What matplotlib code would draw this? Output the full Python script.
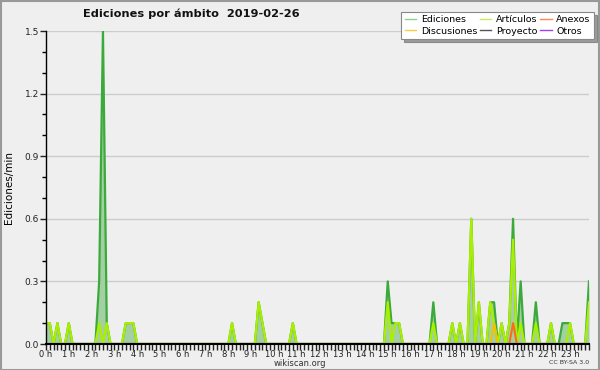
import numpy as np
import matplotlib
matplotlib.use("Agg")
import matplotlib.pyplot as plt
from matplotlib.ticker import MultipleLocator, FormatStrFormatter, FixedLocator
from matplotlib.patches import Rectangle

# 10-minute bins, values in edits/min (one row = one hour, six bins)
ediciones = [
    0.1, 0.1, 0.0, 0.1, 0.0, 0.0,   # 0h
    0.1, 0.0, 0.0, 0.0, 0.0, 0.0,   # 1h
    0.0, 0.0, 0.3, 1.5, 0.1, 0.0,   # 2h
    0.0, 0.0, 0.0, 0.1, 0.1, 0.1,   # 3h
    0.0, 0.0, 0.0, 0.0, 0.0, 0.0,   # 4h
    0.0, 0.0, 0.0, 0.0, 0.0, 0.0,   # 5h
    0.0, 0.0, 0.0, 0.0, 0.0, 0.0,   # 6h
    0.0, 0.0, 0.0, 0.0, 0.0, 0.0,   # 7h
    0.0, 0.1, 0.0, 0.0, 0.0, 0.0,   # 8h
    0.0, 0.0, 0.2, 0.1, 0.0, 0.0,   # 9h
    0.0, 0.0, 0.0, 0.0, 0.0, 0.1,   # 10h
    0.0, 0.0, 0.0, 0.0, 0.0, 0.0,   # 11h
    0.0, 0.0, 0.0, 0.0, 0.0, 0.0,   # 12h
    0.0, 0.0, 0.0, 0.0, 0.0, 0.0,   # 13h
    0.0, 0.0, 0.0, 0.0, 0.0, 0.0,   # 14h
    0.3, 0.1, 0.1, 0.1, 0.0, 0.0,   # 15h
    0.0, 0.0, 0.0, 0.0, 0.0, 0.0,   # 16h
    0.2, 0.0, 0.0, 0.0, 0.0, 0.1,   # 17h
    0.0, 0.1, 0.0, 0.0, 0.6, 0.0,   # 18h
    0.2, 0.0, 0.0, 0.2, 0.2, 0.0,   # 19h
    0.1, 0.0, 0.1, 0.6, 0.0, 0.3,   # 20h
    0.0, 0.0, 0.0, 0.2, 0.0, 0.0,   # 21h
    0.0, 0.1, 0.0, 0.0, 0.1, 0.1,   # 22h
    0.1, 0.0, 0.0, 0.0, 0.0, 0.3,   # 23h
]
articulos = [
    0.1, 0.1, 0.0, 0.1, 0.0, 0.0,
    0.1, 0.0, 0.0, 0.0, 0.0, 0.0,
    0.0, 0.0, 0.1, 0.0, 0.1, 0.0,
    0.0, 0.0, 0.0, 0.1, 0.1, 0.1,
    0.0, 0.0, 0.0, 0.0, 0.0, 0.0,
    0.0, 0.0, 0.0, 0.0, 0.0, 0.0,
    0.0, 0.0, 0.0, 0.0, 0.0, 0.0,
    0.0, 0.0, 0.0, 0.0, 0.0, 0.0,
    0.0, 0.1, 0.0, 0.0, 0.0, 0.0,
    0.0, 0.0, 0.2, 0.1, 0.0, 0.0,
    0.0, 0.0, 0.0, 0.0, 0.0, 0.1,
    0.0, 0.0, 0.0, 0.0, 0.0, 0.0,
    0.0, 0.0, 0.0, 0.0, 0.0, 0.0,
    0.0, 0.0, 0.0, 0.0, 0.0, 0.0,
    0.0, 0.0, 0.0, 0.0, 0.0, 0.0,
    0.2, 0.0, 0.1, 0.1, 0.0, 0.0,
    0.0, 0.0, 0.0, 0.0, 0.0, 0.0,
    0.1, 0.0, 0.0, 0.0, 0.0, 0.1,
    0.0, 0.1, 0.0, 0.0, 0.6, 0.0,
    0.2, 0.0, 0.0, 0.2, 0.1, 0.0,
    0.1, 0.0, 0.1, 0.5, 0.0, 0.1,
    0.0, 0.0, 0.0, 0.1, 0.0, 0.0,
    0.0, 0.1, 0.0, 0.0, 0.0, 0.0,
    0.1, 0.0, 0.0, 0.0, 0.0, 0.2,
]
anexos = [0.0] * 144
anexos[123] = 0.1
discusiones = [0.0] * 144
discusiones[118] = 0.1
proyecto = [0.0] * 144
otros = [0.0] * 144

hour_labels = [f"{h} h" for h in range(24)]
title = "Ediciones por ámbito  2019-02-26"

x = np.arange(144) / 6.0

fig = plt.figure(figsize=(6.0, 3.7), dpi=100, facecolor="#efefef")
ax = fig.add_axes([46 / 600, 1 - 344 / 370, 543 / 600, 313 / 370])
ax.set_facecolor("#efefef")

ax.fill_between(x, ediciones, 0, color="#a4cfa4", lw=0, zorder=2)
ax.plot(x, otros, color="#9944ee", lw=1.5, zorder=3, label="Otros")
ax.plot(x, proyecto, color="#555555", lw=1.5, zorder=3, label="Proyecto")
ax.plot(x, ediciones, color="#3aaa3a", lw=1.6, zorder=4, label="Ediciones")
ax.plot(x, articulos, color="#aaee00", lw=1.6, zorder=5, label="Artículos")
ax.plot(x, discusiones, color="#f2c200", lw=1.5, zorder=6, label="Discusiones")
ax.plot(x, anexos, color="#ff6a1a", lw=1.5, zorder=6, label="Anexos")

ax.set_xlim(0, 143 / 6)
ax.set_ylim(0, 1.5)
for s in ["top", "right"]:
    ax.spines[s].set_visible(False)
ax.spines["left"].set_linewidth(1.0)
ax.spines["bottom"].set_linewidth(1.5)
ax.spines["left"].set_zorder(7)
ax.spines["bottom"].set_zorder(7)

ax.xaxis.set_major_locator(FixedLocator(np.arange(24)))
ax.set_xticklabels(hour_labels)
ax.xaxis.set_minor_locator(MultipleLocator(1 / 6))
ax.yaxis.set_major_locator(MultipleLocator(0.3))
ax.yaxis.set_minor_locator(MultipleLocator(0.1))
ax.yaxis.set_major_formatter(FormatStrFormatter("%.1f"))
ax.tick_params(axis="x", which="both", direction="out", length=4, width=1, labelsize=6.0, pad=0, colors="#222222")
ax.tick_params(axis="y", which="major", direction="out", length=4, width=1, labelsize=6.5, pad=1, colors="#222222")
ax.tick_params(axis="y", which="minor", direction="out", length=3, width=1)
ax.grid(axis="y", which="major", color="#cccccc", lw=1.0, zorder=0)
ax.set_axisbelow(True)

ax.set_ylabel("Ediciones/min", fontsize=7.5, labelpad=8)

fig.text(191 / 600, 1 - 14 / 370, title, fontsize=8.2, fontweight="bold", ha="center", va="center", color="#111111")
fig.text(300 / 600, 1 - 363 / 370, "wikiscan.org", fontsize=6.0, ha="center", va="center", color="#333333")
fig.text(589 / 600, 1 - 363 / 370, "CC BY-SA 3.0", fontsize=4.5, ha="right", va="center", color="#333333")

order = ["Ediciones", "Discusiones", "Artículos", "Proyecto", "Anexos", "Otros"]
leg_colors = {"Ediciones": "#8fd08f", "Artículos": "#c6ee55", "Anexos": "#ff8855",
              "Discusiones": "#f5cf44", "Proyecto": "#555555", "Otros": "#9944ee"}
handles = [plt.Line2D([], [], color=leg_colors[k], lw=1.0) for k in order]
leg = fig.legend(handles, order, ncol=3, loc="upper right", bbox_to_anchor=(594 / 600, 1 - 12 / 370),
                 fontsize=6.8, frameon=True, fancybox=False, shadow=True, edgecolor="#888888",
                 handlelength=1.2, handletextpad=0.5, columnspacing=0.3, labelspacing=0.25,
                 borderpad=0.35, borderaxespad=0)
leg.get_frame().set_linewidth(0.8)

fig.patches.append(Rectangle((0.001, 0.001), 0.998, 0.997, transform=fig.transFigure,
                             fill=False, edgecolor="#999999", lw=1.5))

fig.savefig("out.png", dpi=100, facecolor=fig.get_facecolor())
